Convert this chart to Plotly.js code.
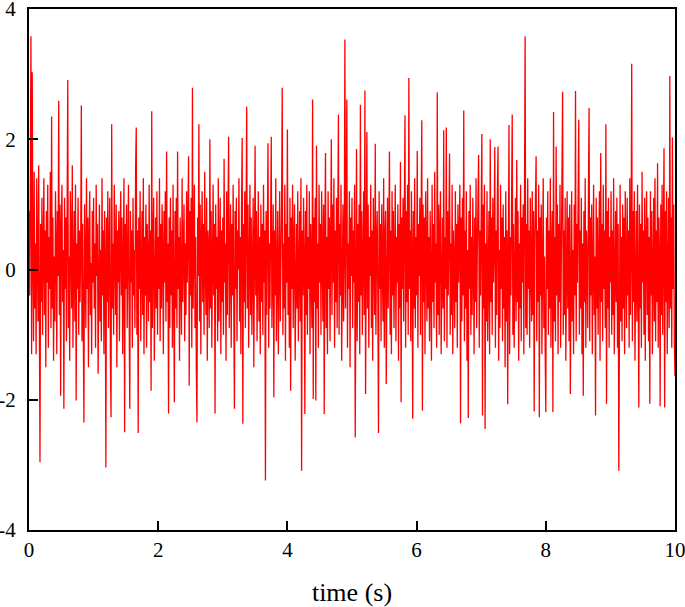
<!DOCTYPE html>
<html>
<head>
<meta charset="utf-8">
<script src="https://cdn.plot.ly/plotly-3.0.1.min.js"></script>
<style>html,body{margin:0;padding:0;background:#fff;}#chart{width:685px;height:607px;}</style>
</head>
<body>
<div id="chart"></div>
<script>
// sampling: start time and step (s)
const t0 = 0;
const dt = 0.01;
// signal values (one row = 0.2 s)
const signal = [
0.9,-0.4,1.2,3.58,-1.3,3.03,0.2,-1.1,1.5,-0.6,0.4,-1.3,1.4,0.1,-0.8,1.6,-0.2,-2.96,0.7,-0.5,
1.1,-1.0,0.3,1.4,-0.7,0.6,-1.5,0.9,-0.2,1.3,-1.2,0.5,-0.3,1.5,-0.9,2.35,-0.6,0.8,-1.4,0.2,
-0.8,1.2,0.4,-1.3,0.9,-0.1,2.59,-0.7,1.0,-1.94,0.6,1.3,-0.5,0.3,-2.14,1.1,-0.3,0.8,-1.1,1.5,
2.91,-0.9,0.2,-1.4,1.2,0.5,-0.6,1.6,-1.2,0.0,0.9,-0.8,1.3,-2.01,0.4,-0.3,1.1,-1.0,0.6,-0.5,
0.3,2.52,-1.1,0.7,-0.4,-2.35,1.0,0.2,-0.9,1.4,-0.3,0.8,-1.5,0.5,1.2,-0.7,0.1,-1.3,0.9,-0.2,
1.1,-0.6,0.4,-1.2,1.3,-0.1,0.7,-1.6,0.5,1.0,-0.8,0.3,-1.1,1.4,-0.4,0.6,-1.3,0.9,0.1,-3.04,
0.8,-0.5,1.2,-0.9,0.3,1.1,-1.4,-2.27,2.23,-0.6,0.4,-1.0,1.3,0.2,-0.7,1.0,-1.5,0.6,-0.2,0.9,
-1.1,0.5,1.2,-0.4,0.8,-1.3,0.1,1.4,-2.50,0.7,-0.3,1.0,-0.9,0.4,1.3,-0.6,-2.14,0.9,-0.2,0.6,
-1.2,1.1,-0.4,0.3,-0.9,1.5,2.18,-1.0,0.6,-2.51,0.8,-0.3,1.2,-1.1,0.2,0.9,-0.7,1.4,-1.3,0.5,
-0.4,1.0,-1.2,0.7,0.1,-0.8,1.3,-0.5,0.6,-1.86,2.43,-0.9,0.4,1.1,-1.4,0.2,0.8,-0.6,1.2,-1.0,
0.5,-0.3,1.4,-1.1,0.7,-0.6,1.0,0.2,-1.3,0.9,-0.2,1.2,-0.8,1.81,-0.5,0.4,-2.21,0.8,-0.9,1.1,
-0.4,0.6,-1.2,1.3,0.1,-2.04,0.9,-0.6,1.1,-0.9,1.81,-0.3,0.5,-1.4,0.8,0.2,-1.0,1.4,-0.5,0.3,
1.0,-1.1,0.4,-0.7,1.2,-0.2,0.6,1.74,-1.78,0.9,-0.4,1.1,-1.2,2.79,-0.6,0.3,1.3,-0.9,0.5,-1.5,
-2.35,0.8,-0.1,2.23,-0.8,1.0,-1.3,0.4,1.2,-0.5,0.7,-1.0,1.5,0.0,-0.7,1.1,-1.4,0.6,0.2,-0.9,
2.0,-0.6,0.9,-1.2,0.3,1.3,-0.4,0.7,-2.21,1.0,-0.3,0.5,-1.1,1.4,-0.8,0.2,1.1,-1.3,0.6,-0.5,
0.8,-1.0,1.70,-0.2,0.4,-1.4,1.2,-0.7,0.5,2.04,-0.9,0.3,1.0,-1.2,0.7,-0.4,1.3,-0.6,-2.14,0.9,
-0.3,1.1,-1.1,0.6,0.0,1.4,-0.8,0.5,-1.3,0.9,2.02,-2.37,0.7,-0.5,1.2,-0.9,0.3,2.50,-0.6,1.0,
-1.2,0.4,1.3,-0.7,0.8,-1.0,0.2,1.1,-1.5,0.6,1.90,-0.4,0.9,-1.1,0.3,1.2,-0.8,0.5,-1.3,1.0,
-0.5,0.7,-1.0,1.3,-0.2,0.6,-3.24,0.9,-0.7,1.1,1.94,-1.2,0.4,-0.6,1.2,2.04,-0.9,0.3,1.0,-1.96,
0.6,-0.4,1.4,-1.1,0.2,0.9,-1.3,0.5,1.2,-0.8,-0.1,1.0,2.79,-1.0,0.4,-0.6,1.3,-1.4,0.7,-0.2,
2.15,-0.7,0.5,-1.2,1.1,-1.86,0.8,-0.3,1.3,-0.9,0.4,1.0,-1.4,0.2,0.7,-0.6,1.2,-1.1,0.3,0.9,
-0.8,1.4,-3.09,0.6,-0.4,1.1,0.1,-2.22,0.9,-0.7,1.3,-1.0,0.5,-0.3,1.2,-1.3,0.7,0.0,-0.9,2.61,
-1.99,0.8,-0.5,1.1,-2.01,1.90,-0.6,0.4,-1.2,1.3,-0.2,0.7,-1.0,1.2,0.3,-0.8,1.0,-2.22,0.6,1.79,
-0.9,0.5,-1.3,1.2,-0.3,0.8,-1.1,0.4,2.0,-0.7,1.0,-0.2,1.4,-1.2,0.6,-0.5,1.1,-0.9,0.3,2.38,
-1.0,0.7,-0.4,1.3,-1.4,0.5,1.0,-0.8,0.2,3.53,-0.6,0.9,2.61,-1.2,0.4,-0.3,1.2,-1.5,0.8,-0.1,
1.1,-0.9,0.6,-0.2,1.3,-2.58,0.4,1.85,-1.1,0.7,-0.5,1.0,-1.3,2.53,-0.4,0.9,-1.0,0.3,1.2,-0.7,
2.75,-1.91,0.8,2.11,-0.6,1.0,-1.2,0.5,-0.1,1.3,-0.9,0.6,-1.4,1.1,0.2,-0.7,1.93,-1.0,0.4,0.9,
-0.5,-2.51,1.2,-0.3,0.7,-1.1,1.0,0.1,-0.8,1.4,-1.2,0.5,0.9,-1.76,0.3,1.1,-0.6,0.8,1.81,-1.0,
0.6,-1.3,1.2,-0.4,0.9,-0.9,0.3,1.3,-1.1,0.5,-0.2,1.0,-1.4,0.7,-0.6,1.65,-2.04,0.8,-0.3,1.1,
-0.8,0.4,2.37,-1.2,0.9,-0.5,1.3,-1.0,2.94,-0.3,0.6,-1.1,1.2,0.2,-2.29,0.9,-0.6,1.4,-0.9,0.5,
-0.4,1.82,-1.2,0.7,-0.1,1.1,-1.0,0.6,2.29,-2.17,1.0,-0.5,0.8,-1.3,1.2,0.3,-0.8,1.4,-0.6,0.5,
-1.1,0.9,0.1,-1.4,1.3,-0.5,0.7,-0.9,1.5,-0.2,0.4,-1.2,2.72,-0.7,1.0,-1.0,0.6,1.2,-1.3,0.3,
0.8,-0.6,2.14,-1.1,0.5,-0.3,2.18,-1.2,0.9,-0.4,1.1,1.78,-1.0,0.4,-0.7,1.3,-1.3,0.6,0.0,-0.9,
1.2,-0.5,0.7,-1.2,1.0,-0.2,0.5,1.3,-2.36,0.8,-0.8,1.1,-0.4,2.44,-1.1,0.6,-0.6,1.2,-1.4,0.3,
-2.28,0.9,-0.3,1.3,-1.0,0.5,-0.7,1.1,0.1,-1.3,0.8,-0.5,1.4,-0.9,0.3,1.0,1.76,-1.2,0.6,-0.4,
0.7,2.08,-2.24,1.0,-0.6,1.3,-2.45,0.4,-0.8,1.2,-1.1,0.5,0.9,-1.3,2.0,-0.5,0.8,-1.0,1.1,-0.2,
0.4,1.88,-1.2,0.6,-0.7,1.1,1.89,-1.4,0.3,-0.9,1.3,-0.3,0.8,-1.1,1.0,-0.6,0.5,-1.5,1.2,-0.8,
0.6,-2.07,1.0,2.22,-1.3,0.5,-0.4,1.2,2.38,-1.0,0.7,-1.2,0.3,1.1,-0.8,1.68,-0.5,0.9,-1.4,0.4,
-0.6,1.3,-1.1,0.8,-0.2,1.0,-1.3,0.5,3.58,-0.9,0.7,-1.0,1.4,-0.3,0.6,-1.2,1.1,0.0,-0.8,1.2,
-0.7,0.9,-2.18,0.4,1.2,1.74,-1.1,0.6,-0.5,1.3,-2.27,0.8,-0.4,1.0,-1.3,0.5,1.4,-0.9,0.2,-1.2,
-2.19,0.8,-0.3,1.2,-1.0,0.6,-0.6,1.4,-1.2,0.3,0.9,-2.19,2.42,-0.8,0.5,-1.1,1.89,-0.4,1.0,-1.3,
0.7,-0.5,1.3,-1.2,0.2,0.9,2.73,-1.0,0.6,-0.7,1.1,-1.4,0.4,1.2,-0.6,0.8,-1.1,1.0,-1.91,0.5,
1.2,-0.8,0.3,-1.3,1.0,-0.4,2.74,-1.1,0.7,-0.2,1.3,2.30,-1.0,0.6,-0.6,1.1,-1.3,0.4,-1.94,0.9,
-0.5,1.4,-1.2,0.6,0.1,-0.9,1.2,2.48,-1.1,0.8,-0.4,1.0,-1.3,0.5,1.3,-0.7,0.2,-2.24,1.1,-0.6,
0.8,-1.0,0.4,1.2,-1.4,1.79,-0.5,0.7,-1.1,1.3,-0.3,0.6,-0.9,2.23,-2.06,0.9,-0.6,1.1,-1.2,0.5,
-0.2,1.2,-1.0,0.6,-0.7,1.4,-1.3,0.3,0.9,-0.5,1.1,-1.2,0.7,-3.09,0.4,1.3,-0.8,0.5,-1.1,1.0,
-0.6,0.8,-1.3,1.2,0.0,-0.9,1.1,-0.4,0.6,-1.2,1.4,-0.7,0.3,3.16,-1.1,0.9,-0.5,1.2,-1.4,0.5,
0.9,-0.8,1.3,-0.3,-2.12,1.0,-0.6,0.7,-1.2,1.5,-0.2,0.6,-1.0,1.1,-1.4,0.4,1.2,-0.7,0.8,-1.1,
0.5,-2.06,1.2,-0.4,0.9,-1.3,0.3,1.1,-0.8,1.4,-1.1,0.6,-0.5,1.63,-1.2,0.8,0.2,-2.10,1.0,-0.7,
1.3,-1.0,0.6,1.86,-2.12,0.9,-0.5,1.2,-1.3,0.4,1.1,-0.9,2.97,-0.6,0.8,-1.2,2.03,-0.3,1.0,-1.1,
-1.64
];
const xTicks = [0, 2, 4, 6, 8, 10];
const yTicks = [-4, -2, 0, 2, 4];
const yTickText = ["-4", "-2", "0", "2", "4"];

const font = {family: "'Liberation Serif', 'Times New Roman', serif", color: '#000'};

Plotly.newPlot('chart', [{
  type: 'scatter',
  mode: 'lines',
  y: signal,
  x0: t0,
  dx: dt,
  line: {color: '#ff0000', width: 1.3},
  hoverinfo: 'skip'
}], {
  width: 685, height: 607,
  margin: {l: 29, r: 10, t: 9, b: 77},
  paper_bgcolor: '#fff', plot_bgcolor: '#fff',
  showlegend: false,
  font: Object.assign({size: 21}, font),
  xaxis: {
    range: [0, 10],
    tickvals: xTicks,
    ticks: 'inside', ticklen: 9, tickwidth: 2, tickcolor: '#000',
    showline: true, linewidth: 2, linecolor: '#000', mirror: true,
    showgrid: false, zeroline: false,
    ticklabeloverflow: 'allow',
    tickfont: Object.assign({size: 21}, font),
    title: {text: 'time (s)', font: Object.assign({size: 26}, font), standoff: 22}
  },
  yaxis: {
    range: [-4, 4],
    tickvals: yTicks, ticktext: yTickText,
    ticks: 'inside', ticklen: 9, tickwidth: 2, tickcolor: '#000',
    showline: true, linewidth: 2, linecolor: '#000', mirror: true,
    showgrid: false, zeroline: false,
    ticklabeloverflow: 'allow',
    tickfont: Object.assign({size: 21}, font),
    ticklabelstandoff: 7
  }
}, {displayModeBar: false, staticPlot: true});
</script>
</body>
</html>
